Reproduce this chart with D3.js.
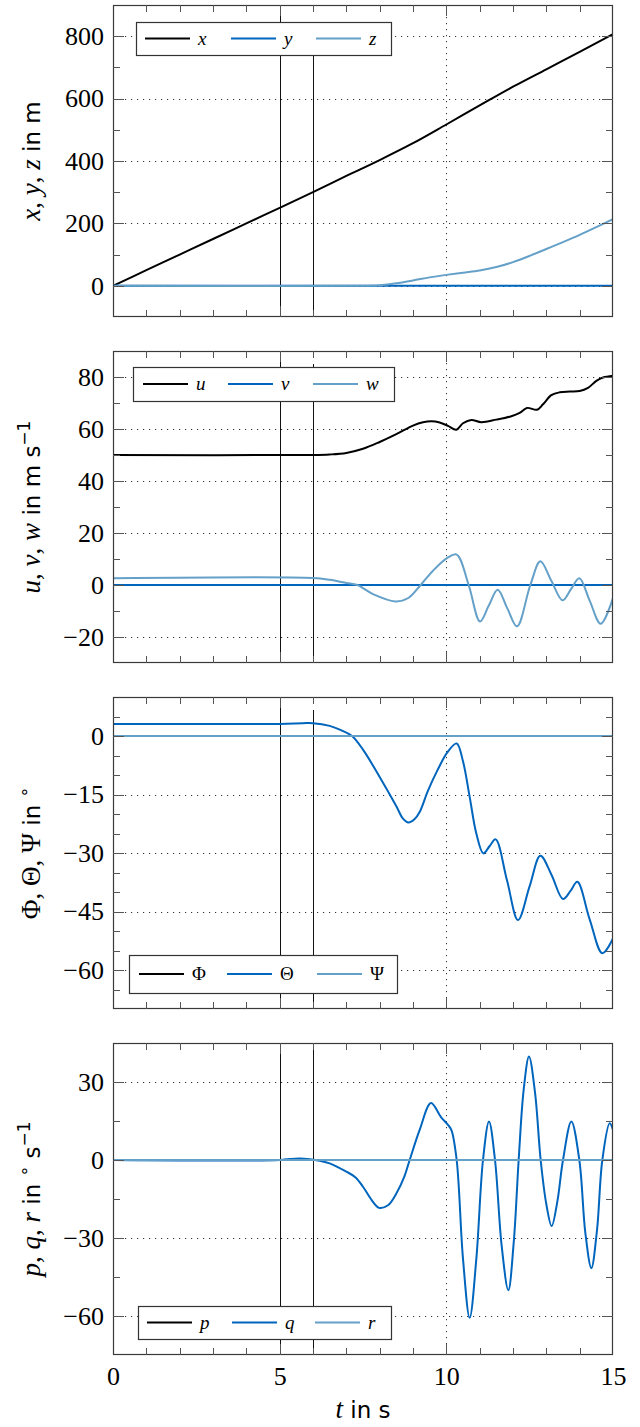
<!DOCTYPE html>
<html><head><meta charset="utf-8">
<script src="https://cdn.jsdelivr.net/npm/d3@7"></script>
<style>body{margin:0;background:#fff}svg{display:block}</style>
</head><body>
<svg id="c" width="640" height="1427"></svg>
<script>
// ---------------- DATA ----------------
// Panel 1: positions in m
const tX = [0,1,2,3,4,5,6,7,8,9,10,11,12,13,14,15];
const posX = [0,50,100,150,200,250,300,352,403,457,517,578,638,694,750,807];
const tY = [0,15];
const posY = [0,0];
const tZ = [0,7.5,8,8.5,9,9.5,10,10.5,11,11.5,12,12.5,13,13.5,14,14.5,15];
const posZ = [0,0,2,8,17,27,35,42,49,60,76,96,118,140,163,188,214];

// Panel 2: velocities in m/s
const tU = [0,6,6.5,7,7.5,8,8.5,9,9.3,9.55,9.8,10.05,10.3,10.5,10.75,11.05,11.5,11.95,12.2,12.42,12.72,12.9,13.15,13.4,13.7,14.0,14.25,14.5,14.7,15];
const velU = [50,50,50.2,50.8,52.4,55,58,61.3,62.6,63,62.5,61.2,59.7,62.2,63.5,62.6,63.6,64.9,66.2,68.1,67.4,69.5,73,74.1,74.4,74.6,75.8,78.5,79.8,80.5];
const tV = [0,15];
const velV = [0,0];
const tW = [0,6,6.5,7.0,7.33,7.8,8.47,8.86,9.23,9.6,10.03,10.31,10.67,11.01,11.27,11.54,11.83,12.12,12.52,12.82,13.15,13.49,13.74,13.99,14.3,14.63,15];
const velW = [2.6,2.7,2.0,0.8,0,-3.5,-6.3,-5,0,5.5,10.4,11.7,0,-14,-8,-1.8,-9,-15.9,0,9.1,1.6,-5.9,-1.6,2.6,-6,-14.9,-5];

// Panel 3: attitude in degrees
const tPhi = [0,15];
const angPhi = [0,0];
const tTheta = [0,5,5.7,6.0,6.5,6.84,7.17,7.5,8.0,8.5,8.7,8.86,9.05,9.2,9.45,9.75,10.03,10.31,10.5,10.7,10.9,11.11,11.3,11.48,11.82,12.15,12.5,12.82,13.15,13.5,13.72,13.93,14.3,14.68,15];
const angTheta = [3.1,3.1,3.3,3.3,2.6,1.5,0,-3.5,-10.5,-18,-21.2,-22.2,-21.3,-19.5,-14,-8.5,-4.2,-1.9,-6.5,-15.6,-25,-30.1,-28.2,-26.5,-37,-47.2,-38.5,-30.7,-35.5,-41.8,-39.8,-37.4,-47,-55.7,-51.9];
const tPsi = [0,15];
const angPsi = [0,0];

// Panel 4: rates in deg/s
const tP = [0,15];
const rateP = [0,0];
const tQ = [0,5,5.3,5.6,5.9,6.2,6.5,7.0,7.27,7.5,7.76,7.98,8.25,8.5,8.74,8.9,9.2,9.54,9.84,10.03,10.15,10.31,10.5,10.7,10.9,11.1,11.28,11.46,11.66,11.86,12.02,12.17,12.32,12.48,12.66,12.83,13.0,13.16,13.33,13.5,13.75,13.99,14.17,14.35,14.52,14.68,14.9,15];
const rateQ = [0,0,0.4,0.6,0.3,-0.3,-1.3,-4.5,-6.6,-10.3,-15.4,-18.4,-17.4,-12.9,-6.4,0,11.6,21.9,16.5,13.8,11.6,0,-38,-60.7,-38,0,14.8,0,-33,-50.1,-32,0,27,39.8,26,0,-17,-25.4,-16,0,14.8,0,-28,-41.6,-27,0,14.1,11.6];
const tR = [0,15];
const rateR = [0,0];

// Axes ticks / labels
const xTicks = [0,5,10,15];
const xTickLabels = ["0","5","10","15"];
const yTicks1 = [0,200,400,600,800];
const yTicks2 = [-20,0,20,40,60,80];
const yTicks3 = [-60,-45,-30,-15,0];
const yTicks4 = [-60,-30,0,30];
const markerTimes = [5,6];
const legend1 = ["x","y","z"];
const legend2 = ["u","v","w"];
const legend3 = ["Φ","Θ","Ψ"];
const legend4 = ["p","q","r"];

// ---------------- STYLE / LAYOUT ----------------
const COLORS = ["#000000","#0065BD","#64A0C8"];
const X0 = 113, X1 = 613, PH = 312;
const SERIF = "'Liberation Serif', serif";
const SANS = "'DejaVu Sans', sans-serif";
const svg = d3.select("#c");
const tScale = d3.scaleLinear().domain([0,15]).range([X0,X1]);
const fmt = v => (v<0 ? "\u2212"+Math.abs(v) : ""+v);

const it = (s)=>({t:s,f:SERIF,st:"italic"});
const rm = (s)=>({t:s,f:SERIF});
const sf = (s)=>({t:s,f:SANS});
const sup = (s,f)=>({t:s,f:f||SANS,sup:true});

const panels = [
 {top:5, dom:[-100,900], ticks:yTicks1, minor:100,
  series:[[tX,posX],[tY,posY],[tZ,posZ]], legend:legend1, italic:true,
  lg:{x:136,y:22,w:255,h:33,off:[9,95,180]}, m6top:17,
  label:[it("x"),rm(", "),it("y"),rm(", "),it("z"),sf(" in m")]},
 {top:351, dom:[-30,90], ticks:yTicks2, minor:10,
  series:[[tU,velU],[tV,velV],[tW,velW]], legend:legend2, italic:true,
  lg:{x:133,y:367,w:261,h:34,off:[10,95,180]}, m6top:13,
  label:[it("u"),rm(", "),it("v"),rm(", "),it("w"),sf(" in m s"),sup("\u22121")]},
 {top:697, dom:[-70,10], ticks:yTicks3, minor:5,
  series:[[tPhi,angPhi],[tTheta,angTheta],[tPsi,angPsi]], legend:legend3, italic:false,
  lg:{x:129,y:955,w:268,h:38,off:[10,98,188]}, m6top:13,
  label:[rm("Φ, Θ, Ψ"),sf(" in "),sup("\u2218",SANS)]},
 {top:1043, dom:[-75,45], ticks:yTicks4, minor:15,
  series:[[tP,rateP],[tQ,rateQ],[tR,rateR]], legend:legend4, italic:true,
  lg:{x:138,y:1306,w:253,h:33,off:[9,94,177]}, m6top:0,
  label:[it("p"),rm(", "),it("q"),rm(", "),it("r"),sf(" in "),sup("\u2218",SANS),sf(" s"),sup("\u22121")]}
];

panels.forEach((P,pi)=>{
  const y = d3.scaleLinear().domain(P.dom).range([P.top+PH, P.top]);
  const g = svg.append("g");
  const grid = g.append("g").attr("stroke","#333").attr("stroke-width",1).attr("stroke-dasharray","1.2,4.8");
  grid.selectAll(".hg").data(P.ticks).join("line")
    .attr("x1",X0).attr("x2",X1).attr("y1",d=>Math.round(y(d))+0.5).attr("y2",d=>Math.round(y(d))+0.5);
  grid.selectAll(".vg").data(xTicks.filter(d=>d>0&&d<15)).join("line")
    .attr("x1",d=>Math.round(tScale(d))+0.5).attr("x2",d=>Math.round(tScale(d))+0.5)
    .attr("y1",P.top).attr("y2",P.top+PH);
  g.selectAll(".mk").data(markerTimes).join("line")
    .attr("x1",d=>Math.round(tScale(d))+0.5).attr("x2",d=>Math.round(tScale(d))+0.5)
    .attr("y1",(d,i)=> i===1 ? P.top+P.m6top : P.top).attr("y2",P.top+PH)
    .attr("stroke","#111").attr("stroke-width",1);
  const cid = "clip"+pi;
  svg.append("clipPath").attr("id",cid).append("rect")
    .attr("x",X0).attr("y",P.top).attr("width",X1-X0).attr("height",PH);
  const line = d3.line().x(d=>tScale(d[0])).y(d=>y(d[1])).curve(d3.curveCatmullRom.alpha(0.5));
  P.series.forEach((s,si)=>{
    const pts = s[0].map((t,i)=>[t,s[1][i]]);
    g.append("path").attr("d",line(pts)).attr("fill","none")
      .attr("stroke",COLORS[si]).attr("stroke-width",2).attr("stroke-linejoin","round")
      .attr("clip-path",`url(#${cid})`);
  });
  g.append("rect").attr("x",X0+0.5).attr("y",P.top+0.5).attr("width",X1-X0-1).attr("height",PH-1)
    .attr("fill","none").attr("stroke","#3a3a3a").attr("stroke-width",1.2);
  const minorY = d3.range(Math.ceil(P.dom[0]/P.minor)*P.minor, P.dom[1]+1e-9, P.minor)
     .filter(v=>!P.ticks.includes(v) && v>P.dom[0] && v<P.dom[1]);
  const tk = g.append("g").attr("stroke","#555").attr("stroke-width",1);
  const addY = (vals,len)=>{
    vals.forEach(v=>{
      const yy = Math.round(y(v))+0.5;
      tk.append("line").attr("x1",X0).attr("x2",X0+len).attr("y1",yy).attr("y2",yy);
      tk.append("line").attr("x1",X1).attr("x2",X1-len).attr("y1",yy).attr("y2",yy);
    });
  };
  addY(P.ticks,11); addY(minorY,7);
  const minorX = d3.range(1,15).filter(v=>!xTicks.includes(v));
  const addX = (vals,len)=>{
    vals.forEach(v=>{
      const xx = Math.round(tScale(v))+0.5;
      tk.append("line").attr("x1",xx).attr("x2",xx).attr("y1",P.top).attr("y2",P.top+len);
      tk.append("line").attr("x1",xx).attr("x2",xx).attr("y1",P.top+PH).attr("y2",P.top+PH-len);
    });
  };
  addX(xTicks.filter(d=>d>0&&d<15),11); addX(minorX,7);
  const ax = d3.axisLeft(y).tickValues(P.ticks).tickFormat(fmt).tickSize(0).tickPadding(9);
  const ag = g.append("g").attr("transform",`translate(${X0},0)`).call(ax);
  ag.attr("font-family",null).attr("font-size",null);
  ag.select(".domain").remove();
  ag.selectAll("text").style("font-family",SERIF).style("font-size","26px").attr("fill","#000");
  if(pi===3){
    const bx = d3.axisBottom(tScale).tickValues(xTicks).tickFormat((d,i)=>xTickLabels[i]).tickSize(0).tickPadding(12);
    const bg = g.append("g").attr("transform",`translate(0,${P.top+PH})`).call(bx);
    bg.attr("font-family",null).attr("font-size",null);
    bg.select(".domain").remove();
    bg.selectAll("text").style("font-family",SERIF).style("font-size","26px").attr("fill","#000");
    const xl = svg.append("text").attr("x",(X0+X1)/2).attr("y",1418).attr("text-anchor","middle");
    xl.append("tspan").style("font-family",SERIF).style("font-style","italic").style("font-size","27px").text("t");
    xl.append("tspan").style("font-family",SANS).style("font-size","23px").text(" in s");
  }
  const lbl = svg.append("text").attr("text-anchor","middle")
    .attr("transform",`translate(40,${P.top+PH/2}) rotate(-90)`);
  let shifted = false;
  P.label.forEach(p=>{
    const ts = lbl.append("tspan").style("font-family",p.f).text(p.t);
    if(p.st) ts.style("font-style",p.st);
    if(p.sup){ ts.style("font-size","17px").attr("dy",-10); shifted = true; }
    else {
      ts.style("font-size", p.f===SANS?"23px":"27px");
      if(shifted){ ts.attr("dy",10); shifted=false; }
    }
  });
  const L = P.lg;
  const lg = svg.append("g");
  lg.append("rect").attr("x",L.x+0.5).attr("y",L.y+0.5).attr("width",L.w).attr("height",L.h)
    .attr("fill","#fff").attr("stroke","#333").attr("stroke-width",1.2);
  const ly = L.y + L.h/2;
  P.legend.forEach((name,i)=>{
    const x0 = L.x + L.off[i];
    lg.append("line").attr("x1",x0).attr("x2",x0+45).attr("y1",ly).attr("y2",ly)
      .attr("stroke",COLORS[i]).attr("stroke-width",2);
    lg.append("text").attr("x",x0+53).attr("y",ly).attr("dy","0.32em")
      .style("font-family",SERIF).style("font-style",P.italic?"italic":"normal")
      .style("font-size","19px").attr("fill","#000").text(name);
  });
});
</script>
</body></html>
